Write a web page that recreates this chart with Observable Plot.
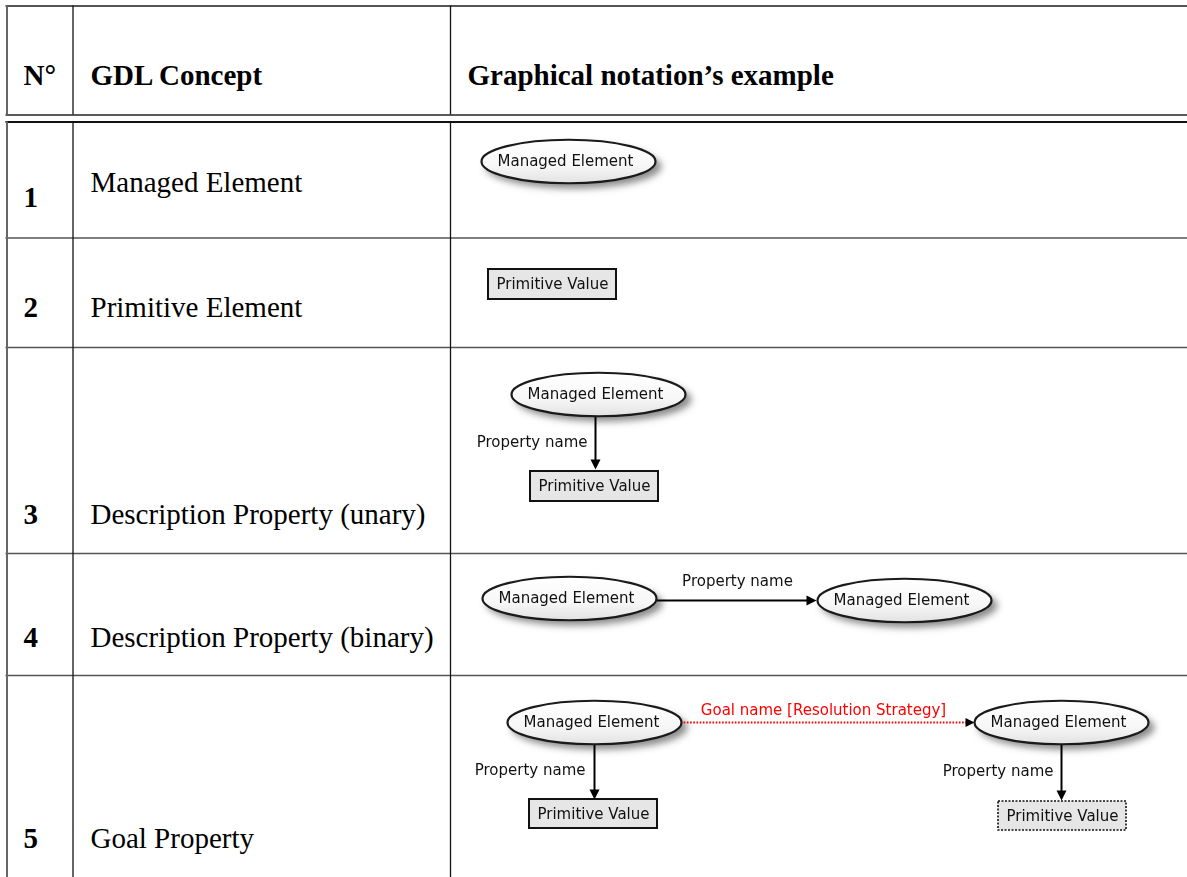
<!DOCTYPE html>
<html>
<head>
<meta charset="utf-8">
<script src="https://cdn.jsdelivr.net/npm/d3@7"></script>
<script src="https://cdn.jsdelivr.net/npm/@observablehq/plot@0.6"></script>
<style>
  html, body { margin: 0; padding: 0; background: #fff; }
  #chart svg { display: block; }
</style>
</head>
<body>
<div id="chart"></div>
<script>
// ---------- content ----------
const headers = ["N°", "GDL Concept", "Graphical notation’s example"];
const rowNumbers = ["1", "2", "3", "4", "5"];
const concepts = [
  "Managed Element",
  "Primitive Element",
  "Description Property (unary)",
  "Description Property (binary)",
  "Goal Property"
];
const elementLabel = "Managed Element";
const valueLabel = "Primitive Value";
const propertyLabel = "Property name";
const goalLabel = "Goal name [Resolution Strategy]";

// ---------- layout (positions in page pixels) ----------
const W = 1187, H = 877;
const serif = "Liberation Serif, Times New Roman, serif";
const sans = "DejaVu Sans, Verdana, sans-serif";
const headFs = 29, bodyFs = 29, diagFs = 15;
const mid = (baseline, fs) => baseline - 0.32 * fs; // center y for a given baseline

const tableLeft = 6.5, tableRight = 1195;
const colLines = [72.5, 450];
const headerTop = 5.5, headerBottom = 114.5, bodyTop = 121.5, bodyBottom = 900;
const rowLines = [237.5, 347, 553, 675];

const headerX = [23, 90, 467];
const headerBaseline = 84;
const numberX = 23, conceptX = 90;
const numberBaselines = [206, 316, 523, 646, 847];
const conceptBaselines = [191, 316, 523, 646, 847];

const ellipseLayout = [
  {x: 568, y: 161}, {x: 598, y: 394},
  {x: 569, y: 598}, {x: 904, y: 600},
  {x: 594, y: 722}, {x: 1061, y: 722}
];
const boxLayout = [
  {x1: 488, x2: 616, y1: 269, y2: 299, dashed: false},
  {x1: 530, x2: 658, y1: 471, y2: 501, dashed: false},
  {x1: 529, x2: 657, y1: 799, y2: 828, dashed: false},
  {x1: 998, x2: 1126, y1: 801, y2: 830, dashed: true}
];
const edgeLayout = [
  {x1: 595, y1: 416, x2: 595, y2: 469, rot: 0},
  {x1: 656, y1: 600, x2: 816, y2: 600, rot: -90},
  {x1: 594, y1: 744, x2: 594, y2: 799, rot: 0},
  {x1: 1061, y1: 744, x2: 1061, y2: 800, rot: 0}
];
const goalEdgeLayout = [{x1: 680, y1: 722, x2: 974, y2: 722, rot: -90}];
const propLabelLayout = [
  {x: 587, y: 442, anchor: "end"},
  {x: 737, y: 581, anchor: "middle"},
  {x: 585, y: 770, anchor: "end"},
  {x: 1053, y: 771, anchor: "end"}
];
const goalLabelLayout = [{x: 823, y: 710}];

// ---------- derived tables ----------
const headerRows = headers.map((t, i) => ({t, x: headerX[i], y: mid(headerBaseline, headFs)}));
const numberRows = rowNumbers.map((t, i) => ({t, x: numberX, y: mid(numberBaselines[i], bodyFs)}));
const conceptRows = concepts.map((t, i) => ({t, x: conceptX, y: mid(conceptBaselines[i], bodyFs)}));
const ellipses = ellipseLayout.map(d => ({...d, label: elementLabel}));
const boxes = boxLayout.map(d => ({...d, label: valueLabel}));
const propLabels = propLabelLayout.map(d => ({...d, label: propertyLabel}));
const goalLabels = goalLabelLayout.map(d => ({...d, label: goalLabel}));
const hRules = [
  {y: headerTop, w: 2.2, c: "#555"},
  {y: headerBottom, w: 1.8, c: "#5a5a5a"},
  {y: bodyTop, w: 2.2, c: "#111"},
  ...rowLines.map(y => ({y, w: 1.6, c: "#555"}))
];
const vSegments = [[headerTop, headerBottom], [bodyTop, bodyBottom]];
const vRules = [];
for (const [y1, y2] of vSegments) {
  vRules.push({x: tableLeft, y1, y2, w: 2, c: "#666"});
  for (const x of colLines) vRules.push({x, y1, y2, w: 1.3, c: "#111"});
}

// ---------- custom symbols ----------
const ellipseSymbol = {
  draw(ctx, size) {
    const rx = Math.sqrt(size / Math.PI), ry = rx * 0.25, k = 0.5522847498;
    ctx.moveTo(rx, 0);
    ctx.bezierCurveTo(rx, ry * k, rx * k, ry, 0, ry);
    ctx.bezierCurveTo(-rx * k, ry, -rx, ry * k, -rx, 0);
    ctx.bezierCurveTo(-rx, -ry * k, -rx * k, -ry, 0, -ry);
    ctx.bezierCurveTo(rx * k, -ry, rx, -ry * k, rx, 0);
    ctx.closePath();
  }
};
const arrowHead = {
  draw(ctx, size) {
    const r = Math.sqrt(size / Math.PI);
    ctx.moveTo(0, 0);
    ctx.lineTo(-r, -2 * r);
    ctx.lineTo(r, -2 * r);
    ctx.closePath();
  }
};

const labelStyle = {x: "x", y: "y", text: "label", fontFamily: sans, fontSize: diagFs, fill: "#111"};

// ---------- plot ----------
const plot = Plot.plot({
  width: W,
  height: H,
  margin: 0,
  x: {domain: [0, W], range: [0, W], axis: null},
  y: {domain: [0, H], range: [0, H], axis: null},
  style: {background: "#fff"},
  marks: [
    // table grid
    ...hRules.map(r => Plot.ruleY([r], {y: "y", x1: tableLeft - 1, x2: tableRight, stroke: r.c, strokeWidth: r.w})),
    ...vRules.map(r => Plot.ruleX([r], {x: "x", y1: "y1", y2: "y2", stroke: r.c, strokeWidth: r.w})),
    // header & body text
    Plot.text(headerRows, {x: "x", y: "y", text: "t", textAnchor: "start", fontFamily: serif, fontSize: headFs, fontWeight: "bold", fill: "#000"}),
    Plot.text(numberRows, {x: "x", y: "y", text: "t", textAnchor: "start", fontFamily: serif, fontSize: bodyFs, fontWeight: "bold", fill: "#000"}),
    Plot.text(conceptRows, {x: "x", y: "y", text: "t", textAnchor: "start", fontFamily: serif, fontSize: bodyFs, fill: "#000"}),
    // diagram: ellipse shadows
    Plot.dot(ellipses, {x: d => d.x + 5, y: d => d.y + 5, r: 88, symbol: ellipseSymbol, fill: "#666", fillOpacity: 0.75, stroke: "none", ariaDescription: "ellipse-shadow"}),
    // edges
    Plot.link(edgeLayout, {x1: "x1", y1: "y1", x2: d => d.rot === 0 ? d.x2 : d.x2 - 9, y2: d => d.rot === 0 ? d.y2 - 9 : d.y2, stroke: "#000", strokeWidth: 2}),
    Plot.dot(edgeLayout, {x: "x2", y: "y2", r: 5, symbol: arrowHead, rotate: "rot", fill: "#000", stroke: "none"}),
    Plot.link(goalEdgeLayout, {x1: "x1", y1: "y1", x2: d => d.x2 - 8, y2: "y2", stroke: "#ff0000", strokeWidth: 2, strokeDasharray: "1.6,1.6"}),
    Plot.dot(goalEdgeLayout, {x: "x2", y: "y2", r: 4.5, symbol: arrowHead, rotate: "rot", fill: "#000", stroke: "none"}),
    // ellipses
    Plot.dot(ellipses, {x: "x", y: "y", r: 87, symbol: ellipseSymbol, fill: "url(#ellGrad)", stroke: "#1a1a1a", strokeWidth: 2.2}),
    Plot.text(ellipses, {...labelStyle, x: d => d.x - 3}),
    // primitive value boxes
    Plot.rect(boxes.filter(d => !d.dashed), {x1: "x1", x2: "x2", y1: "y1", y2: "y2", fill: "#e6e6e6", stroke: "#111", strokeWidth: 2}),
    Plot.rect(boxes.filter(d => d.dashed), {x1: "x1", x2: "x2", y1: "y1", y2: "y2", fill: "#e6e6e6", stroke: "#111", strokeWidth: 1.6, strokeDasharray: "2,1.5"}),
    Plot.text(boxes, {...labelStyle, x: d => (d.x1 + d.x2) / 2, y: d => (d.y1 + d.y2) / 2}),
    // edge labels
    Plot.text(propLabels.filter(d => d.anchor === "end"), {...labelStyle, textAnchor: "end"}),
    Plot.text(propLabels.filter(d => d.anchor === "middle"), {...labelStyle, textAnchor: "middle"}),
    Plot.text(goalLabels, {...labelStyle, fill: "#ff0000"})
  ]
});

// defs: soft shadow + ellipse gradient
const svg = d3.select(plot);
svg.insert("defs", ":first-child").html(
  '<filter id="softShadow" x="-20%" y="-80%" width="140%" height="260%"><feGaussianBlur stdDeviation="3.5"/></filter>' +
  '<linearGradient id="ellGrad" x1="0" y1="0" x2="0" y2="1">' +
  '<stop offset="0" stop-color="#ffffff"/><stop offset="0.6" stop-color="#f7f7f7"/><stop offset="1" stop-color="#e2e2e2"/></linearGradient>'
);
svg.selectAll('g[aria-description="ellipse-shadow"]').attr("filter", "url(#softShadow)");
document.getElementById("chart").appendChild(plot);
</script>
</body>
</html>
